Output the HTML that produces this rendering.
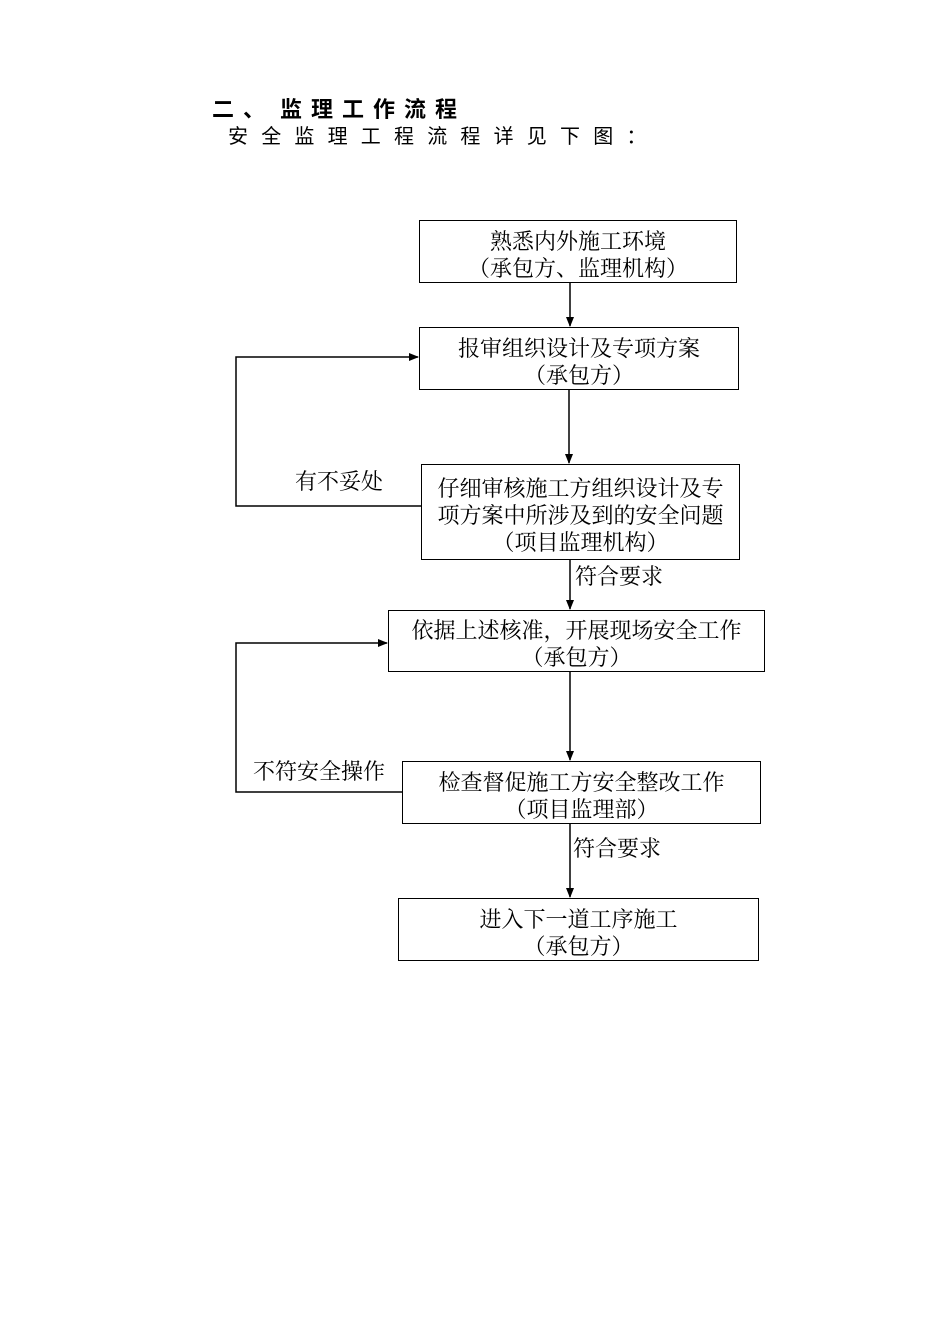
<!DOCTYPE html>
<html><head><meta charset="utf-8">
<style>
body{margin:0;width:950px;height:1344px;background:#fff;position:relative;font-family:"Liberation Sans","Noto Sans CJK SC",sans-serif;color:#000}
.t{position:absolute;white-space:nowrap}
.box{position:absolute;border:1.5px solid #000;box-sizing:border-box;text-align:center;font-family:"Liberation Serif","Noto Serif CJK SC",serif;font-size:22px;line-height:27px;display:flex;flex-direction:column;justify-content:center;padding-top:6px}
.lbl{position:absolute;font-family:"Liberation Serif","Noto Serif CJK SC",serif;font-size:22px;white-space:nowrap}
</style></head><body>
<div class="t" style="left:212px;top:92px;font-size:22px;font-weight:bold;letter-spacing:9px">二、</div>
<div class="t" style="left:280px;top:92px;font-size:22px;font-weight:bold;letter-spacing:9px">监理工作流程</div>
<div class="t" style="left:228px;top:120px;font-size:20px;letter-spacing:13.2px">安全监理工程流程详见下图：</div>

<div class="box" style="left:419px;top:220px;width:318px;height:63px"><div>熟悉内外施工环境</div><div>（承包方、监理机构）</div></div>
<div class="box" style="left:419px;top:327px;width:320px;height:63px"><div>报审组织设计及专项方案</div><div>（承包方）</div></div>
<div class="box" style="left:421px;top:464px;width:319px;height:96px"><div>仔细审核施工方组织设计及专</div><div>项方案中所涉及到的安全问题</div><div>（项目监理机构）</div></div>
<div class="box" style="left:388px;top:610px;width:377px;height:62px"><div>依据上述核准，开展现场安全工作</div><div>（承包方）</div></div>
<div class="box" style="left:402px;top:761px;width:359px;height:63px"><div>检查督促施工方安全整改工作</div><div>（项目监理部）</div></div>
<div class="box" style="left:398px;top:898px;width:361px;height:63px"><div>进入下一道工序施工</div><div>（承包方）</div></div>

<svg width="950" height="1344" style="position:absolute;left:0;top:0">
<defs><marker id="a" markerWidth="10" markerHeight="10" refX="9" refY="5" orient="auto" markerUnits="userSpaceOnUse"><path d="M0,1 L10,5 L0,9 Z" fill="#000"/></marker></defs>
<g stroke="#000" stroke-width="1.5" fill="none">
<line x1="570" y1="283" x2="570" y2="326" marker-end="url(#a)"/>
<line x1="569" y1="390" x2="569" y2="463" marker-end="url(#a)"/>
<line x1="570" y1="560" x2="570" y2="609" marker-end="url(#a)"/>
<line x1="570" y1="672" x2="570" y2="760" marker-end="url(#a)"/>
<line x1="570" y1="824" x2="570" y2="897" marker-end="url(#a)"/>
<polyline points="421,506 236,506 236,357 418,357" marker-end="url(#a)"/>
<polyline points="402,792 236,792 236,643 387,643" marker-end="url(#a)"/>
</g></svg>
<div class="lbl" style="left:295px;top:465px">有不妥处</div>
<div class="lbl" style="left:575px;top:560px">符合要求</div>
<div class="lbl" style="left:253px;top:755px">不符安全操作</div>
<div class="lbl" style="left:573px;top:832px">符合要求</div>
</body></html>
